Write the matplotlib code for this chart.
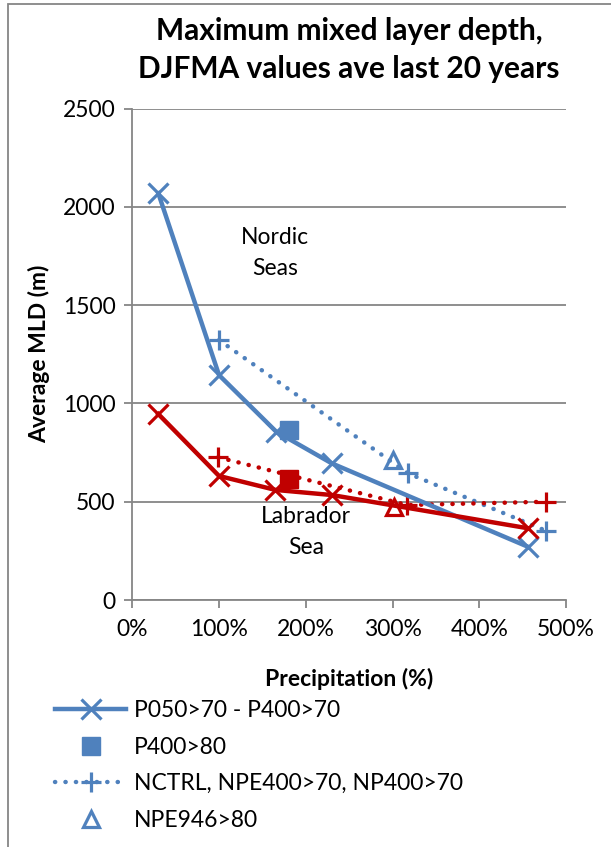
import numpy as np
import matplotlib
matplotlib.use('Agg')
import matplotlib.pyplot as plt
from matplotlib.lines import Line2D
from matplotlib.patches import Rectangle
from matplotlib.ticker import FuncFormatter

plt.rcParams['font.family'] = ['Lato', 'DejaVu Sans']

# precipitation (%) and average MLD (m), DJFMA ave last 20 years
nordic_p = [30, 100, 166, 230, 456]
nordic_mld = [2069, 1144, 856, 695, 271]
nordic_sq_p = [181]
nordic_sq_mld = [865]
nordic_n_p = [100, 318, 477]
nordic_n_mld = [1322, 644, 352]
nordic_tri_p = [301]
nordic_tri_mld = [712]

lab_p = [30, 100, 165, 230, 456]
lab_mld = [946, 631, 560, 534, 365]
lab_sq_p = [181]
lab_sq_mld = [615]
lab_n_p = [99, 317, 477]
lab_n_mld = [726, 483, 500]
lab_tri_p = [302]
lab_tri_mld = [475]

legend_labels = ['P050>70 - P400>70', 'P400>80',
                 'NCTRL, NPE400>70, NP400>70', 'NPE946>80']

blue = '#4F81BD'
red = '#C00000'
grey = '#868686'
fs = 16.5
dots = (0, (0.05, 2.3))

fig = plt.figure(figsize=(6.11, 8.47), dpi=100)
ax = fig.add_axes([0.2165, 0.2916, 0.7099, 0.5803])

def draw(col, p, mld, sp, smld, np_, nmld, tp, tmld):
    ax.plot(p, mld, color=col, lw=3.2, marker='x', ms=14, mew=2.3, zorder=4)
    ax.plot(sp, smld, ls='none', color=col, marker='s', ms=13, zorder=5)
    ax.plot(np_, nmld, color=col, ls=dots, lw=3.2,
            dash_capstyle='round', marker='+', ms=15, mew=2.3, zorder=3)
    ax.plot(tp, tmld, ls='none', color=col, marker='^', ms=12, mew=2.3,
            mfc='none', zorder=5)

draw(blue, nordic_p, nordic_mld, nordic_sq_p, nordic_sq_mld,
     nordic_n_p, nordic_n_mld, nordic_tri_p, nordic_tri_mld)
draw(red, lab_p, lab_mld, lab_sq_p, lab_sq_mld,
     lab_n_p, lab_n_mld, lab_tri_p, lab_tri_mld)

ax.set_xlim(0, 500)
ax.set_ylim(0, 2500)
ax.set_xticks(np.arange(0, 501, 100))
ax.set_yticks(np.arange(0, 2501, 500))
ax.xaxis.set_major_formatter(FuncFormatter(lambda v, pos: '%d%%' % v))
ax.grid(axis='y', color=grey, lw=1.3)
ax.set_axisbelow(True)
for s in ['top', 'right']:
    ax.spines[s].set_visible(False)
for s in ['left', 'bottom']:
    ax.spines[s].set_color(grey)
    ax.spines[s].set_linewidth(1.3)
ax.tick_params(colors=grey, labelcolor='black', labelsize=fs,
               length=6, width=1.3, direction='out')
ax.tick_params(axis='x', pad=8)
ax.tick_params(axis='y', pad=6)

ax.set_xlabel('Precipitation (%)', fontsize=fs, fontweight='bold', labelpad=20)
ax.set_ylabel('Average MLD (m)', fontsize=fs, fontweight='bold', labelpad=9)
ax.set_title('Maximum mixed layer depth,\nDJFMA values ave last 20 years',
             fontsize=21.5, fontweight='bold', pad=22, linespacing=1.42)

ax.text(165, 1765, 'Nordic\nSeas', fontsize=fs, ha='center', va='center',
        linespacing=1.6)
ax.text(200, 346, 'Labrador\nSea', fontsize=fs, ha='center', va='center',
        linespacing=1.6)

handles = [
    Line2D([], [], color=blue, lw=3.2, marker='x', ms=14, mew=2.3),
    Line2D([], [], ls='none', color=blue, marker='s', ms=13),
    Line2D([], [], color=blue, ls=dots, lw=3.2,
           dash_capstyle='round', marker='+', ms=15, mew=2.3),
    Line2D([], [], ls='none', color=blue, marker='^', ms=12, mew=2.3, mfc='none'),
]
fig.legend(handles, legend_labels, loc='upper left',
           bbox_to_anchor=(55 / 611, 1 - 700 / 847), frameon=False,
           fontsize=fs, handlelength=3.1, handletextpad=0.35,
           labelspacing=0.68, borderaxespad=0, borderpad=0)

# chart border
fig.patches.append(Rectangle((8 / 611, -0.01), 1.0, 1.0 - 4 / 847 + 0.01,
                             transform=fig.transFigure, fill=False,
                             edgecolor=grey, lw=1.3))

fig.savefig('out.png', dpi=100)
